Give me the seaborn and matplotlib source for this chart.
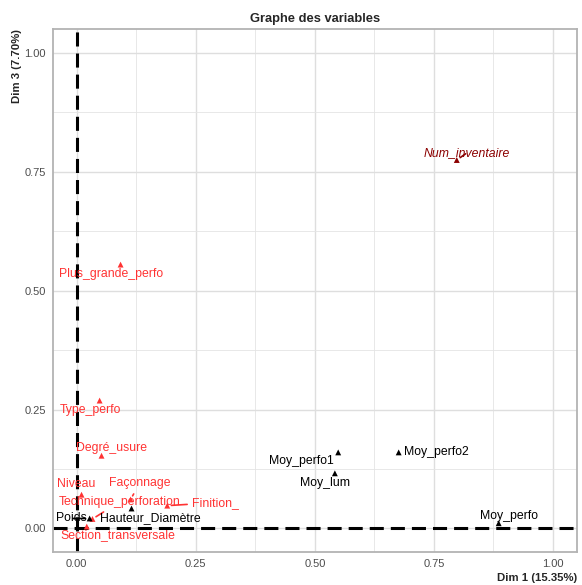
import matplotlib
matplotlib.use("Agg")
import matplotlib.pyplot as plt
import seaborn as sns
import pandas as pd

# ------------------------------
# Data (coordonnées)
# ------------------------------
variables = ["Num_inventaire", "Plus_grande_perfo", "Type_perfo", "Degré_usure",
             "Niveau", "Façonnage", "Technique_perforation", "Finition_",
             "Section_transversale", "Poids", "Hauteur_Diamètre",
             "Moy_perfo1", "Moy_perfo2", "Moy_lum", "Moy_perfo"]
dim1 = [0.798, 0.092, 0.048, 0.052, 0.010, 0.113, 0.033, 0.190,
        0.021, 0.027, 0.115, 0.549, 0.676, 0.542, 0.886]
dim3 = [0.775, 0.555, 0.269, 0.153, 0.071, 0.061, 0.020, 0.048,
        0.004, 0.021, 0.042, 0.160, 0.160, 0.116, 0.011]
groupe = ["quali.sup"] + ["active"] * 8 + ["quanti.sup"] * 6

# label offsets (pixels) and whether a repel segment is drawn
label_dx = [10, -10, -9, 10, -5, 9, 27, 48, 31, -18, 19, -37, 38, -10, 10]
label_dy = [7, -9, -9, 8, 11, 16, 17, 3, -9, 0, -10, -9, 0, -10, 7]
segment = [True, False, False, False, False, True, True, True,
           False, True, False, False, False, False, False]

colors = {"active": "#FF3333", "quali.sup": "#8B0000", "quanti.sup": "black"}

df = pd.DataFrame({"variable": variables, "Dim1": dim1, "Dim3": dim3, "groupe": groupe})

# ------------------------------
# Figure
# ------------------------------
sns.set_style("whitegrid")
plt.rcParams["font.family"] = ["Liberation Sans", "DejaVu Sans"]

fig = plt.figure(figsize=(5.82, 5.85), dpi=100)
ax = fig.add_axes([0.091, 0.056, 0.9, 0.894])

ax.set_xlim(-0.05, 1.05)
ax.set_ylim(-0.05, 1.05)
ticks = [0.0, 0.25, 0.5, 0.75, 1.0]
ax.set_xticks(ticks)
ax.set_yticks(ticks)
ax.set_xticks([0.125, 0.375, 0.625, 0.875], minor=True)
ax.set_yticks([0.125, 0.375, 0.625, 0.875], minor=True)
ax.set_xticklabels([f"{t:.2f}" for t in ticks])
ax.set_yticklabels([f"{t:.2f}" for t in ticks])
ax.grid(which="major", color="#DEDEDE", linewidth=1.0)
ax.grid(which="minor", color="#E4E4E4", linewidth=0.6)
ax.set_axisbelow(True)
for s in ax.spines.values():
    s.set_color("#B3B3B3")
    s.set_linewidth(1.3)
ax.tick_params(which="major", length=3.5, color="#B3B3B3", labelsize=8, labelcolor="#4D4D4D", pad=1.5)
ax.tick_params(which="minor", length=0)

ax.axhline(0, color="black", linewidth=2.2, linestyle=(0, (4.6, 2.3)), zorder=2)
ax.axvline(0, color="black", linewidth=2.2, linestyle=(0, (4.6, 2.3)), zorder=2)

sns.scatterplot(data=df, x="Dim1", y="Dim3", hue="groupe", palette=colors,
                marker="^", s=18, linewidth=0, legend=False, ax=ax, zorder=3)

for i, row in df.iterrows():
    col = colors[row["groupe"]]
    style = "italic" if row["groupe"] == "quali.sup" else "normal"
    arrow = dict(arrowstyle="-", color=col, lw=1.2, shrinkA=1, shrinkB=3) if segment[i] else None
    ax.annotate(row["variable"], xy=(row["Dim1"], row["Dim3"]),
                xytext=(label_dx[i], label_dy[i]), textcoords="offset pixels",
                ha="center", va="center", fontsize=8.8, color=col,
                fontstyle=style, arrowprops=arrow, zorder=4)

ax.set_title("Graphe des variables", fontsize=9.3, fontweight="bold", pad=5)
ax.set_xlabel("Dim 1 (15.35%)", fontsize=8.2, fontweight="bold", loc="right", labelpad=3)
ax.set_ylabel("Dim 3 (7.70%)", fontsize=8.2, fontweight="bold", loc="top", labelpad=2)

plt.savefig("out.png", dpi=100)
